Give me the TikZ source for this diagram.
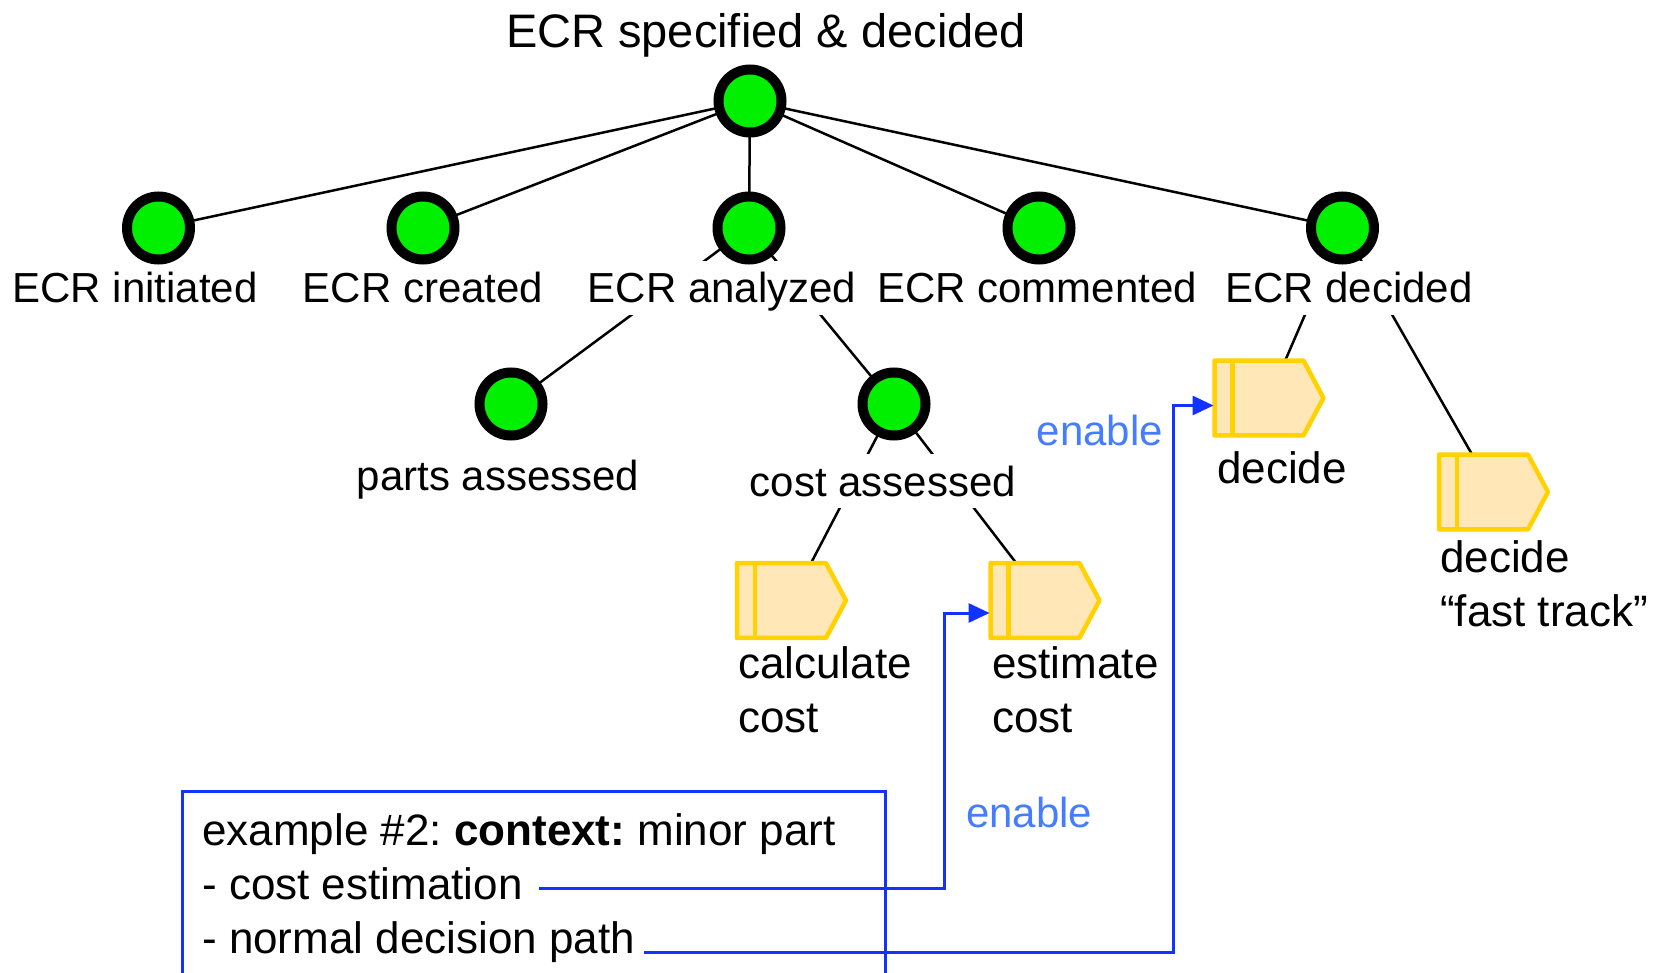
\documentclass[tikz,border=0pt]{standalone}
\usepackage{fontspec}
\setmainfont{Liberation Sans}
\usetikzlibrary{arrows.meta,backgrounds}
\definecolor{nodegreen}{RGB}{0,240,0}
\definecolor{taskgold}{RGB}{255,210,0}
\definecolor{taskfill}{RGB}{255,231,183}
\definecolor{linkblue}{RGB}{20,50,255}
\definecolor{enableblue}{RGB}{70,125,255}
\begin{document}
\frenchspacing
\begin{tikzpicture}[x=1pt,y=-1pt,
  state/.style={circle, draw=black, fill=nodegreen, line width=10pt, minimum size=63pt, inner sep=0pt},
  lbl/.style={font=\fontsize{42}{54}\selectfont, fill=white, inner sep=2pt, text height=40pt, text depth=10pt, anchor=base},
  tasklbl/.style={font=\fontsize{44}{54}\selectfont, align=left, inner sep=0pt, anchor=base west},
  taskbox/.style={rectangle, minimum width=108.5pt, minimum height=74.5pt, inner sep=0pt},
  taskline/.style={draw=taskgold, line width=4.5pt, line join=round},
  tree/.style={draw=black, line width=2.5pt},
  link/.style={draw=linkblue, line width=3pt},
  linkarrow/.style={link, arrows={-Triangle[length=21pt,width=19pt]}},
  enablelbl/.style={font=\fontsize{42}{54}\selectfont, text=enableblue, inner sep=0pt},
  boxtxt/.style={font=\fontsize{44}{54}\selectfont, inner sep=0pt, anchor=base west}]
\useasboundingbox (0,0) rectangle (1668,973);
\clip (0,0) rectangle (1668,973);

% title
\node[font=\fontsize{47}{56}\selectfont, anchor=base, inner sep=0pt] (ttl) at (766,48) {ECR specified \& decided};

% labels of states
\node[lbl] (lini) at (135,303) {ECR initiated};
\node[lbl] (lcre) at (423,303) {ECR created};
\node[lbl] (lana) at (722,303) {ECR analyzed};
\node[lbl] (lcom) at (1037,303) {ECR commented};
\node[lbl] (ldec) at (1349,303) {ECR decided};
\node[lbl] (lparts) at (498,490) {parts assessed};
\node[lbl] (lcosta) at (883,496) {cost assessed};

% states
\node[state] (top) at (750,101) {};
\node[state] (ini) at (158.5,228) {};
\node[state] (cre) at (423,228) {};
\node[state] (ana) at (749,228) {};
\node[state] (com) at (1039,228) {};
\node[state] (dec) at (1342.5,228) {};
\node[state] (parts) at (511,404) {};
\node[state] (costa) at (894,404) {};

% tasks
\foreach \n/\x/\y in {calc/791.5/600.5, est/1045/600.5, dcd/1269/398, fast/1493.5/492}{
  \node[taskbox] (\n) at (\x,\y) {};
  \path[taskline, fill=taskfill] (\n.north west) -- ([xshift=-20pt]\n.north east) -- (\n.east)
     -- ([xshift=-20pt]\n.south east) -- (\n.south west) -- cycle;
  \draw[taskline] ([xshift=18pt]\n.north west) -- ([xshift=18pt]\n.south west);
}

% task labels (anchored at the baseline of the last line)
\node[tasklbl] (lcalc) at (738,732) {calculate\\cost};
\node[tasklbl] (lest) at (992,732) {estimate\\cost};
\node[tasklbl] (ldcd) at (1217,483) {decide};
\node[tasklbl] (lfast) at (1440,626) {decide\\“fast track”};

% tree edges
\begin{scope}[on background layer]
  \foreach \c in {ini,cre,ana,com,dec} { \draw[tree] (top.center) -- (\c.center); }
  \draw[tree] (ana.center) -- (parts.center);
  \draw[tree] (ana.center) -- (costa.center);
  \draw[tree] (costa.center) -- (calc.center);
  \draw[tree] (costa.center) -- (est.center);
  \draw[tree] (dec.center) -- (dcd.center);
  \draw[tree] (dec.center) -- (fast.center);
\end{scope}

% context box
\node[draw=linkblue, line width=2.5pt, anchor=north west, minimum width=703pt, minimum height=260pt, inner sep=0pt] (ctx) at (181,790) {};
\node[boxtxt] (ex) at (202,845) {example \#2: \textbf{context:} minor part};
\node[boxtxt] (ce) at (202,899) {- cost estimation};
\node[boxtxt] (nd) at (202,953) {- normal decision path};

% enable labels
\node[enablelbl, anchor=base east] (en1) at (1163,445) {enable};
\node[enablelbl, anchor=base west] (en2) at (966,827) {enable};

% connectors
\coordinate (estin) at ([yshift=-12.5pt,xshift=-1pt]est.west);
\coordinate (dcdin) at ([yshift=-7.5pt,xshift=-1pt]dcd.west);
\coordinate (bend1) at (944,613);
\coordinate (bend2) at (1173,405.5);
\draw[linkarrow] ([xshift=16pt,yshift=11pt]ce.base east) -| (bend1) -- (estin);
\draw[linkarrow] ([xshift=9pt,yshift=1pt]nd.base east) -| (bend2) -- (dcdin);
\end{tikzpicture}
\end{document}
